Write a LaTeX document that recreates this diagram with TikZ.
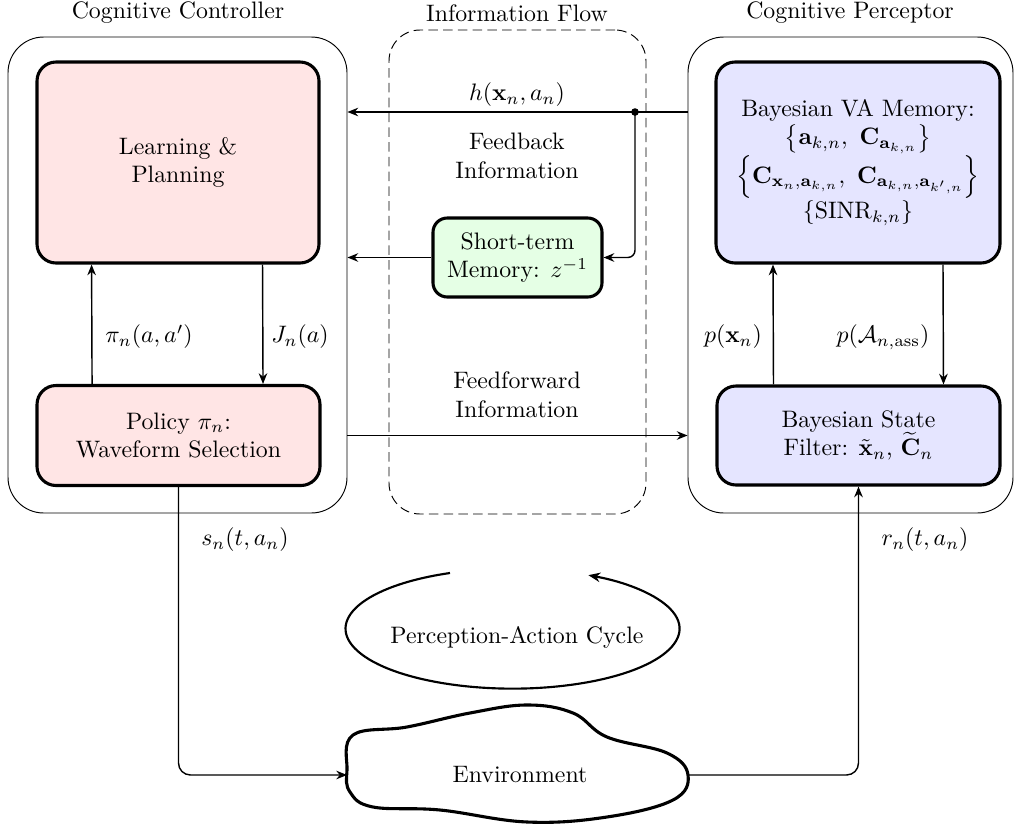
\documentclass[tikz,border=0pt]{standalone}
\usepackage{amsmath}
\usepackage{times}
\usetikzlibrary{arrows.meta}
\begin{document}
\begin{tikzpicture}[x=0.42pt,y=-0.42pt,
  outerbox/.style={draw, line width=0.4pt, rounded corners=15pt, inner sep=0pt},
  blk/.style={draw, line width=1.3pt, rounded corners=8pt, inner sep=0pt, align=center},
  arr/.style={-{Stealth[length=4.5pt,width=3.6pt]}, line width=0.6pt},
  lbl/.style={inner sep=1pt, align=center}]
\useasboundingbox (0,0) rectangle (1021,828);
% titles
\node[lbl] (t1) at (178,13) {Cognitive Controller};
\node[lbl] (t2) at (517,13) {Information Flow};
\node[lbl] (t3) at (850,13) {Cognitive Perceptor};
% outer boxes
\node[outerbox, minimum width=339*0.42pt, minimum height=476*0.42pt] (LO) at (177.5,275) {};
\node[outerbox, minimum width=325*0.42pt, minimum height=476*0.42pt] (RO) at (850.5,275) {};
\node[outerbox, dash pattern=on 4pt off 2.2pt, rounded corners=13pt, minimum width=257*0.42pt, minimum height=484*0.42pt] (MID) at (517.5,272) {};
% inner blocks
\node[blk, fill=red!10, minimum width=282*0.42pt, minimum height=201*0.42pt] (LP) at (178,162.5) {Learning \&\\Planning};
\node[blk, fill=red!10, minimum width=283*0.42pt, minimum height=100*0.42pt] (Pol) at (178.5,435.5) {Policy $\pi_n$:\\Waveform Selection};
\node[blk, fill=blue!10, minimum width=284*0.42pt, minimum height=201*0.42pt] (VA) at (858,162.5) {Bayesian VA Memory:\\
$\big\{\mathbf{a}_{k,n},\ \mathbf{C}_{\mathbf{a}_{k,n}}\big\}$\\
$\Big\{\mathbf{C}_{\mathbf{x}_n,\mathbf{a}_{k,n}},\ \mathbf{C}_{\mathbf{a}_{k,n},\mathbf{a}_{k',n}}\Big\}$\\
$\{\mathrm{SINR}_{k,n}\}$};
\node[blk, fill=blue!10, minimum width=283*0.42pt, minimum height=99*0.42pt] (SF) at (858.5,435.5) {Bayesian State\\Filter: $\tilde{\mathbf{x}}_n$, $\widetilde{\mathbf{C}}_n$};
\node[blk, fill=green!10, rounded corners=6pt, minimum width=169*0.42pt, minimum height=79*0.42pt] (STM) at (517.5,257.5) {Short-term\\Memory: $z^{-1}$};
% feedback
\coordinate (br) at (635,112);
\draw[arr] (RO.west |- br) -- (LO.east |- br);
\fill (br) circle[radius=1.6pt];
\draw[arr, rounded corners=3pt] (br) -- (br |- STM.east) -- (STM.east);
\draw[arr] (STM.west) -- (LO.east |- STM.west);
\node[lbl] (hl) at (517,95) {$h(\mathbf{x}_n,a_n)$};
\node[lbl] (fbl) at (517,156) {Feedback\\Information};
% feedforward
\draw[arr] (LO.east |- Pol.east) -- (RO.west |- Pol.east);
\node[lbl] (ffl) at (517,395) {Feedforward\\Information};
% controller internal
\draw[arr] ([xshift=-36.3pt]Pol.north) -- ([xshift=-36.3pt]LP.south);
\draw[arr] ([xshift=35.5pt]LP.south) -- ([xshift=35.5pt]Pol.north);
\node[lbl] (pil) at (149,337) {$\pi_n(a,a')$};
\node[lbl] (jl) at (300,337) {$J_n(a)$};
% perceptor internal
\draw[arr] ([xshift=-35.7pt]SF.north) -- ([xshift=-35.7pt]VA.south);
\draw[arr] ([xshift=35.7pt]VA.south) -- ([xshift=35.7pt]SF.north);
\node[lbl] (pxl) at (733,337) {$p(\mathbf{x}_n)$};
\node[lbl] (pal) at (883,337) {$p(\mathcal{A}_{n,\mathrm{ass}})$};
% environment
\draw[line width=1.3pt] plot[smooth cycle, tension=0.65] coordinates {(347,770) (353,735) (407,727) (470,713) (527,705) (573,713) (607,737) (667,753) (688,775) (673,800) (607,817) (527,822) (440,810) (373,807) (350,792)};
\node[lbl] (env) at (520,775) {Environment};
\coordinate (envL) at (347,775);
\coordinate (envR) at (688,775);
\draw[arr, rounded corners=5pt] (Pol.south) -- (Pol.south |- envL) -- (envL);
\draw[arr, rounded corners=5pt] (envR) -- (SF.south |- envR) -- (SF.south);
\node[lbl] (sl) at (245,540) {$s_n(t,a_n)$};
\node[lbl] (rl) at (925,540) {$r_n(t,a_n)$};
% perception-action cycle
\draw[-{Stealth[length=5pt,width=4pt]}, line width=0.9pt] (450,573) arc[start angle=112, end angle=423, x radius=70.14pt, y radius=25.2pt];
\node[lbl] (pac) at (517,637) {Perception-Action Cycle};
\end{tikzpicture}
\end{document}
